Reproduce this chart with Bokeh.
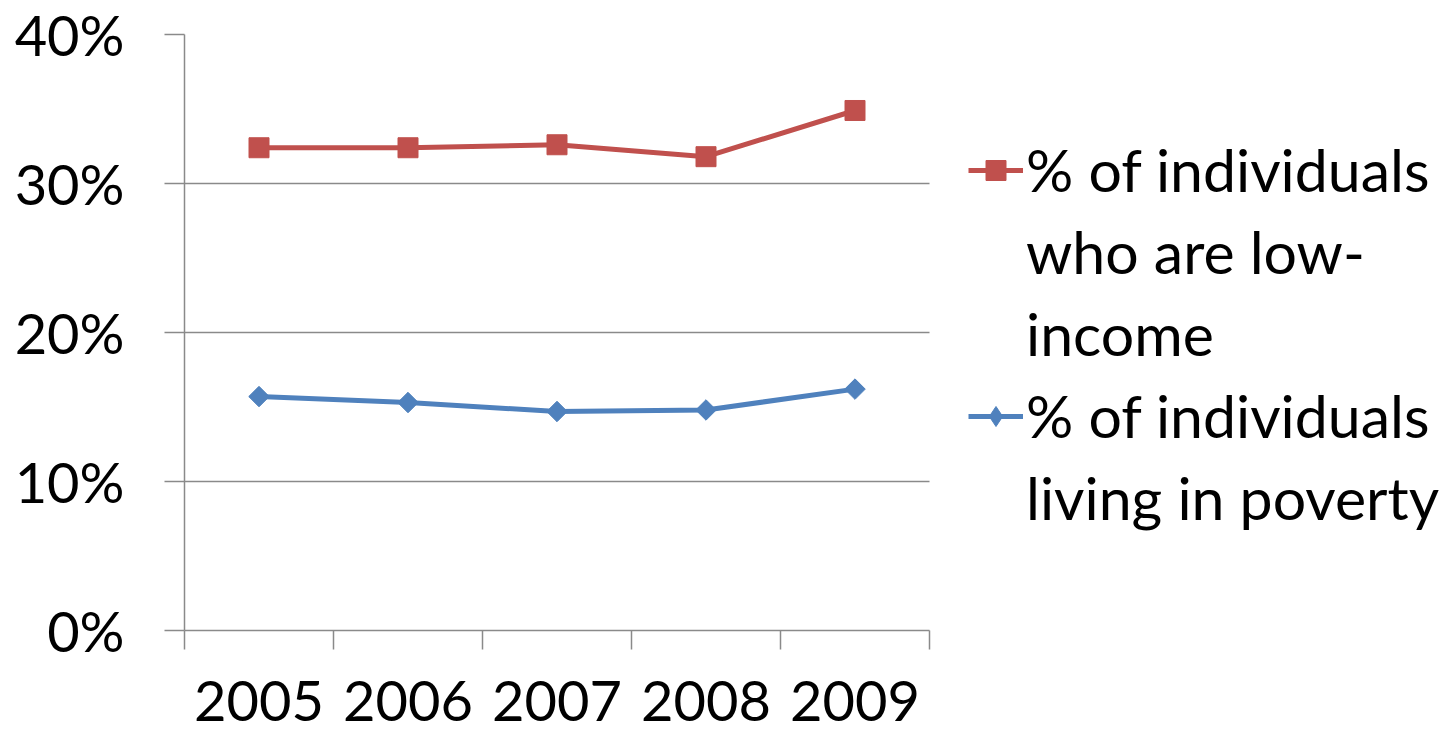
import math
from bokeh.plotting import figure
from bokeh.models import (Range1d, FixedTicker, NumeralTickFormatter, Legend, LegendItem)
from bokeh.embed import file_html
from bokeh.resources import INLINE

years = ["2005", "2006", "2007", "2008", "2009"]
low_income = [0.324, 0.324, 0.326, 0.318, 0.349]
poverty = [0.157, 0.153, 0.147, 0.148, 0.162]
y_ticks = [0.0, 0.1, 0.2, 0.3, 0.4]

label_low = ["% of individuals", "who are low-", "income"]
label_pov = ["% of individuals", "living in poverty"]

RED = "#C0504D"
BLUE = "#4F81BD"
GRID = "#8a8a8a"
FONT = "Lato"
FS = "56px"

W, H = 1448, 735
LEFT, TOP, BOTTOM = 184, 34, 105
PLOT_W = 745            # width of the data area (categories)
FRAME_W = W - LEFT      # frame extends to hold the legend
n = len(years)
x_max = n * FRAME_W / PLOT_W

xs = [i + 0.5 for i in range(n)]

p = figure(width=W, height=H, output_backend="svg", toolbar_location=None,
           x_range=Range1d(0, x_max), y_range=Range1d(0, 0.4),
           min_border_left=LEFT, min_border_top=TOP, min_border_right=0,
           min_border_bottom=BOTTOM)
p.outline_line_color = None
p.background_fill_color = "white"
p.border_fill_color = "white"

# axes
p.xaxis.bounds = (0, n)
p.xaxis.ticker = FixedTicker(ticks=xs, minor_ticks=list(range(n + 1)))
p.xaxis.major_label_overrides = {x: y for x, y in zip(xs, years)}
p.xaxis.major_tick_out = 0
p.xaxis.major_tick_in = 0
p.xaxis.minor_tick_out = 19
p.xaxis.minor_tick_in = 0
p.xaxis.minor_tick_line_color = GRID
p.xaxis.minor_tick_line_width = 1.5
p.xaxis.axis_line_color = GRID
p.xaxis.axis_line_width = 1.5
p.xaxis.major_label_standoff = 31
p.xaxis.major_label_text_font = FONT
p.xaxis.major_label_text_font_size = FS
p.xaxis.major_label_text_color = "black"

p.yaxis.ticker = FixedTicker(ticks=y_ticks)
p.yaxis.formatter = NumeralTickFormatter(format="0%")
p.yaxis.major_tick_out = 20
p.yaxis.major_tick_in = 0
p.yaxis.minor_tick_line_color = None
p.yaxis.major_tick_line_color = GRID
p.yaxis.major_tick_line_width = 1.5
p.yaxis.axis_line_color = GRID
p.yaxis.axis_line_width = 1.5
p.yaxis.major_label_standoff = 40
p.yaxis.major_label_text_font = FONT
p.yaxis.major_label_text_font_size = FS
p.yaxis.major_label_text_color = "black"

p.xgrid.grid_line_color = None
p.ygrid.ticker = FixedTicker(ticks=y_ticks)
p.ygrid.cross_bounds = (0, n)
p.ygrid.grid_line_color = GRID
p.ygrid.grid_line_width = 1.5

# series
r_line = p.line(xs, low_income, line_color=RED, line_width=5)
r_pts = p.scatter(xs, low_income, marker="square", size=20, fill_color=RED, line_color=RED)
b_line = p.line(xs, poverty, line_color=BLUE, line_width=5)
b_pts = p.scatter(xs, poverty, marker="square", angle=math.pi / 4, size=14.5,
                  fill_color=BLUE, line_color=BLUE)
b_leg = p.scatter([float("nan")], [float("nan")], marker="diamond", size=20,
                  fill_color=BLUE, line_color=BLUE)
blank = p.line([float("nan")], [float("nan")], line_alpha=0)

items = [LegendItem(label=label_low[0], renderers=[r_line, r_pts])]
items += [LegendItem(label=t, renderers=[blank]) for t in label_low[1:]]
items += [LegendItem(label=label_pov[0], renderers=[b_line, b_leg])]
items += [LegendItem(label=t, renderers=[blank]) for t in label_pov[1:]]

legend = Legend(items=items, location=(784, 97), padding=0, margin=0, spacing=11,
                glyph_width=55, glyph_height=50, label_standoff=3,
                label_text_font=FONT, label_text_font_size="59px",
                label_text_color="black",
                border_line_color=None, background_fill_alpha=0)
p.add_layout(legend, "center")

open("out.html", "w").write(file_html(p, INLINE))
